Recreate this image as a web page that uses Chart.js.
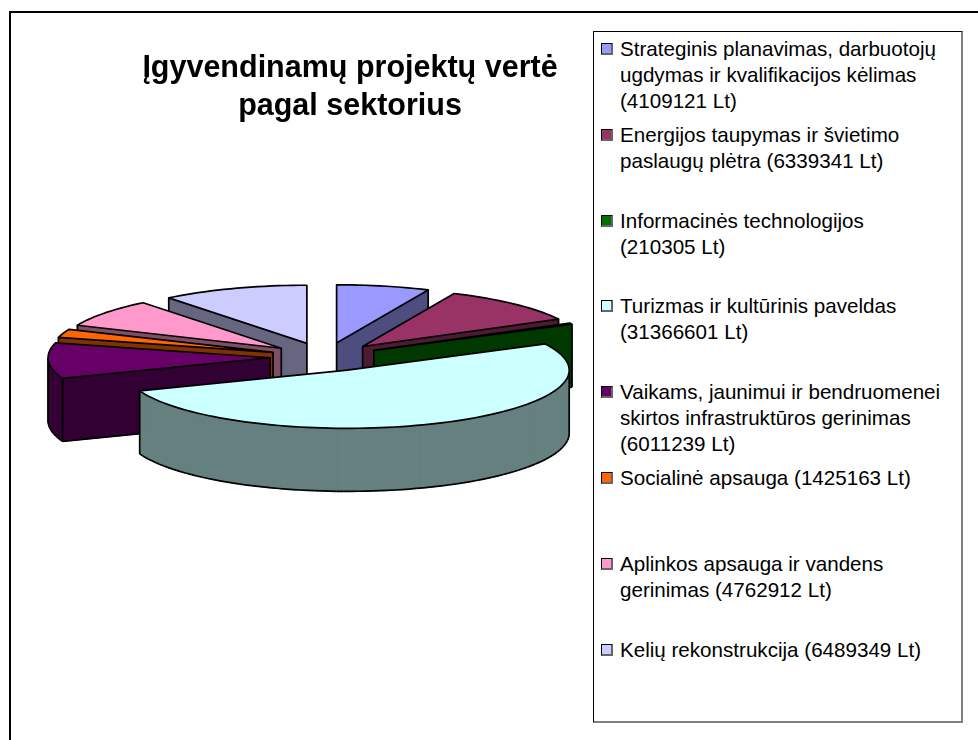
<!DOCTYPE html>
<html lang="lt">
<head>
<meta charset="UTF-8">
<title>Įgyvendinamų projektų vertė pagal sektorius</title>
<script src="https://cdn.jsdelivr.net/npm/chart.js@4"></script>
<style>
    html, body { margin: 0; padding: 0; background: #fff; overflow: hidden; }
    #frame {
        position: absolute; left: 9px; top: 11px; width: 969px; height: 729px;
        border-left: 2px solid #000; border-top: 2px solid #000; box-sizing: border-box;
    }
    #chart { position: absolute; left: 0; top: 0; }
    #legend {
        position: absolute; left: 593px; top: 31px; width: 370px; height: 692px;
        box-sizing: border-box; background: #fff;
        border: 1px solid #000; border-right: 2px solid #808080; border-bottom: 2px solid #808080;
        font: 20.6px/26px "Liberation Sans", Arial, sans-serif; color: #000;
    }
    .item { position: absolute; left: 26px; width: 334px; }
    .swatch {
        position: absolute; left: -19px; top: 7px; width: 12px; height: 12px; box-sizing: border-box;
        border: 1px solid #000; border-right: 2px solid #666; border-bottom: 2px solid #666;
    }
</style>
</head>
<body>
<div id="frame"></div>
<canvas id="chart" width="978" height="740"></canvas>
<div id="legend"></div>
<script>
    const titleLines = ['Įgyvendinamų projektų vertė', 'pagal sektorius'];
    const categories = [
        'Strateginis planavimas, darbuotojų ugdymas ir kvalifikacijos kėlimas',
        'Energijos taupymas ir švietimo paslaugų plėtra',
        'Informacinės technologijos',
        'Turizmas ir kultūrinis paveldas',
        'Vaikams, jaunimui ir bendruomenei skirtos infrastruktūros gerinimas',
        'Socialinė apsauga',
        'Aplinkos apsauga ir vandens gerinimas',
        'Kelių rekonstrukcija'
    ];
    const values = [4109121, 6339341, 210305, 31366601, 6011239, 1425163, 4762912, 6489349];
    const topColors = ['#9999FF', '#993366', '#007000', '#CCFFFF', '#660066', '#FF6600', '#FF99CC', '#CCCCFF'];
    const sideColors = ['#4D4D80', '#4D1A33', '#003800', '#668080', '#330033', '#803300', '#804D66', '#666680'];

    // flat pie is squashed and pulled apart here, Chart.js only has a 2D one
    const pieCx = 325, pieCy = 357, squash = 0.262, explode = 55, depth = 63;

    const pie3d = {
        id: 'pie3d',
        beforeDatasetDraw(chart, args) {
            const ctx = chart.ctx;
            const arcs = args.meta.data.map(arc => {
                const p = arc.getProps(['x', 'y', 'startAngle', 'endAngle', 'outerRadius']);
                return { arc, ...p, mid: (p.startAngle + p.endAngle) / 2 };
            });
            // back slices first
            arcs.sort((a, b) => Math.sin(a.mid) - Math.sin(b.mid));
            arcs.forEach(s => drawSlice(ctx, s, args.meta.data.indexOf(s.arc)));
            return false;
        }
    };

    function drawSlice(ctx, s, index) {
        const ox = pieCx + Math.cos(s.mid) * explode;
        const oy = pieCy + Math.sin(s.mid) * explode * squash;
        const pts = [[ox, oy]];
        const steps = Math.max(2, Math.ceil((s.endAngle - s.startAngle) * 30));
        for (let i = 0; i <= steps; i++) {
            const a = s.startAngle + (s.endAngle - s.startAngle) * i / steps;
            pts.push([ox + Math.cos(a) * s.outerRadius, oy + Math.sin(a) * s.outerRadius * squash]);
        }
        const n = pts.length;
        const isFront = i => pts[(i + 1) % n][0] < pts[i][0];
        const isCorner = i => i === 0 || i === 1 || i === n - 1;

        ctx.save();
        ctx.lineJoin = 'round';

        // side walls
        ctx.fillStyle = sideColors[index];
        ctx.strokeStyle = sideColors[index];
        ctx.lineWidth = 1;
        for (let i = 0; i < n; i++) {
            if (!isFront(i)) continue;
            const p = pts[i], q = pts[(i + 1) % n];
            ctx.beginPath();
            ctx.moveTo(p[0], p[1]);
            ctx.lineTo(q[0], q[1]);
            ctx.lineTo(q[0], q[1] + depth);
            ctx.lineTo(p[0], p[1] + depth);
            ctx.closePath();
            ctx.fill();
            ctx.stroke();
        }
        ctx.strokeStyle = '#000';
        ctx.lineWidth = 1.7;
        for (let i = 0; i < n; i++) {
            const p = pts[i], q = pts[(i + 1) % n];
            if (isFront(i)) {
                ctx.beginPath();
                ctx.moveTo(p[0], p[1] + depth);
                ctx.lineTo(q[0], q[1] + depth);
                ctx.stroke();
            }
            const prevFront = isFront((i - 1 + n) % n), front = isFront(i);
            if ((prevFront !== front) || (front && isCorner(i))) {
                ctx.beginPath();
                ctx.moveTo(p[0], p[1]);
                ctx.lineTo(p[0], p[1] + depth);
                ctx.stroke();
            }
        }

        // top face, the library draws the arc itself
        ctx.save();
        ctx.translate(ox, oy);
        ctx.scale(1, squash);
        ctx.translate(-s.x, -s.y);
        s.arc.draw(ctx);
        ctx.restore();

        ctx.beginPath();
        pts.forEach((p, i) => i ? ctx.lineTo(p[0], p[1]) : ctx.moveTo(p[0], p[1]));
        ctx.closePath();
        ctx.stroke();
        ctx.restore();
    }

    const chart = new Chart(document.getElementById('chart'), {
        type: 'pie',
        data: {
            labels: categories,
            datasets: [{
                data: values,
                backgroundColor: topColors,
                borderWidth: 0
            }]
        },
        options: {
            responsive: false,
            animation: false,
            radius: 222,
            layout: { padding: { right: 278 } },
            plugins: {
                legend: { display: false },
                tooltip: { enabled: false },
                title: {
                    display: true,
                    text: titleLines,
                    color: '#000',
                    font: { family: '"Liberation Sans", Arial, sans-serif', size: 30.5, weight: 'bold', lineHeight: 1.23 },
                    padding: { top: 50, bottom: 0 }
                }
            }
        },
        plugins: [pie3d]
    });

    // legend box, items are spread evenly like in the original
    const legend = document.getElementById('legend');
    categories.forEach((name, i) => {
        const item = document.createElement('div');
        item.className = 'item';
        item.style.top = (4 + i * 85.8) + 'px';
        item.textContent = name + ' (' + values[i] + '\u00A0Lt)';
        const swatch = document.createElement('span');
        swatch.className = 'swatch';
        swatch.style.background = topColors[i];
        item.appendChild(swatch);
        legend.appendChild(item);
    });
</script>
</body>
</html>
